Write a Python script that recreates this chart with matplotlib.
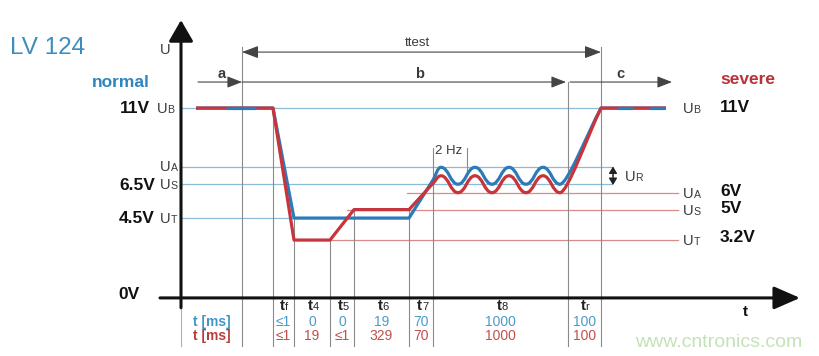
import matplotlib.pyplot as plt
from matplotlib.path import Path
from matplotlib.patches import PathPatch

# voltage levels (V)
level_names = ['B', 'A', 'S', 'T']
normal_levels = [11.0, 7.5, 6.5, 4.5]
severe_levels = [11.0, 6.0, 5.0, 3.2]
normal_texts = ['11V', '', '6.5V', '4.5V']
severe_texts = ['11V', '6V', '5V', '3.2V']

# schematic time positions (diagram units, not to scale)
t_start, t_test, t_end = 15, 61, 485
phase_edges = [92, 113, 149, 173, 228, 252, 387, 420]
phase_names = ['f', '4', '5', '6', '7', '8', 'r']
normal_ms = ['≤1', '0', '0', '19', '70', '1000', '100']
severe_ms = ['≤1', '19', '≤1', '329', '70', '1000', '100']

# 2 Hz ripple extremes
ripple_t = [260, 277, 294, 311, 328, 345, 362, 379]
normal_ripple = [7.5, 6.5, 7.5, 6.5, 7.5, 6.5, 7.5, 6.5]
severe_ripple = [7.0, 6.0, 7.0, 6.0, 7.0, 6.0, 7.0, 6.0]

normal_t = [15, 92, 113, 228, 252] + ripple_t + [420, 485]
normal_u = [11, 11, 4.5, 4.5, 6.75] + normal_ripple + [11, 11]
severe_t = [15, 92, 113, 149, 173, 228, 252] + ripple_t + [420, 485]
severe_u = [11, 11, 3.2, 3.2, 5.0, 5.0, 6.55] + severe_ripple + [11, 11]

BLUE = '#2b7bb9'
RED = '#c8343b'
LBLUE = '#8dbad7'
LRED = '#d88a8c'
GRAY = '#8a8a8a'
DARK = '#3a3a3a'

plt.rcParams['font.family'] = ['Liberation Sans', 'DejaVu Sans']
plt.rcParams['lines.scale_dashes'] = False

fig = plt.figure(figsize=(8.19, 3.56), dpi=100)
ax = fig.add_axes([0, 0, 1, 1])
ax.set_xlim(-181, 638)
ax.set_ylim(-3.6525, 17.388)
ax.axis('off')

X_AX = -0.22   # where the time axis is drawn
TAB_BOT = -3.05


def curve(ts, us, extremes):
    verts = [(ts[0], us[0])]
    codes = [Path.MOVETO]
    for i in range(len(ts) - 1):
        x0, y0, x1, y1 = ts[i], us[i], ts[i + 1], us[i + 1]
        e0, e1 = x0 in extremes, x1 in extremes
        if not (e0 or e1):
            verts.append((x1, y1))
            codes.append(Path.LINETO)
            continue
        d = 0.45 * min(x1 - x0, 17)
        c1 = (x0 + d, y0) if e0 else (x0 + 0.35 * (x1 - x0), y0 + 0.35 * (y1 - y0))
        c2 = (x1 - d, y1) if e1 else (x1 - 0.35 * (x1 - x0), y1 - 0.35 * (y1 - y0))
        verts += [c1, c2, (x1, y1)]
        codes += [Path.CURVE4] * 3
    return Path(verts, codes)


def u_label(x, y, idx, color=DARK, size=10.5):
    yb = y - 0.3
    ax.text(x, yb, 'U', fontsize=size, color=color, va='baseline', ha='left')
    ax.text(x + size * 0.722 * 100 / 72, yb, idx, fontsize=size * 0.72,
            color=color, va='baseline', ha='left')


def arrow(x0, y0, x1, y1, style='-|>', hl=0.9, hw=0.35, lw=0.8, color='#444', ms=10):
    ax.annotate('', xy=(x1, y1), xytext=(x0, y0),
                arrowprops=dict(arrowstyle=f'{style},head_length={hl},head_width={hw}',
                                lw=lw, color=color, mutation_scale=ms,
                                shrinkA=0, shrinkB=0), zorder=4)


# reference levels
ax.plot([0, 420], [normal_levels[0]] * 2, color=LBLUE, lw=0.9, zorder=1)
ax.plot([0, 431], [normal_levels[1]] * 2, color=LBLUE, lw=0.9, zorder=1)
ax.plot([0, 431], [normal_levels[2]] * 2, color=LBLUE, lw=0.9, zorder=1)
ax.plot([0, 228], [normal_levels[3]] * 2, color=LBLUE, lw=0.9, zorder=1)
ax.plot([226, 497], [severe_levels[1]] * 2, color=LRED, lw=0.9, zorder=1)
ax.plot([166, 497], [severe_levels[2]] * 2, color=LRED, lw=0.9, zorder=1)
ax.plot([149, 497], [severe_levels[3]] * 2, color=LRED, lw=0.9, zorder=1)

# vertical guide lines
tops = [11.0, 4.5, 3.2, 5.0, 5.0, 8.64, 12.54, 14.6]
for x, top in zip(phase_edges, tops):
    ax.plot([x, x], [TAB_BOT, top], color=GRAY, lw=0.8, zorder=1)
ax.plot([t_test, t_test], [TAB_BOT, 14.6], color=GRAY, lw=0.8, zorder=1)
ax.plot([0, 0], [TAB_BOT, -0.8], color='#b0b0b0', lw=0.8, zorder=1)
ax.plot([286, 286], [7.22, 8.64], color=GRAY, lw=0.8, zorder=1)
ax.text(254, 8.45, '2 Hz', fontsize=9.5, color=DARK, va='center', ha='left')

# voltage curves
ax.add_patch(PathPatch(curve(normal_t, normal_u, ripple_t), fill=False,
                       edgecolor=BLUE, lw=2.3, joinstyle='round', zorder=3))
ax.add_patch(PathPatch(curve(severe_t, severe_u, ripple_t), fill=False,
                       edgecolor=RED, lw=2.3, joinstyle='round', zorder=3))
ax.plot([normal_t[0], normal_t[1]], [normal_u[0], normal_u[1]], color=BLUE, lw=2.3,
        linestyle=(21.6, (21.6, 21.6)), solid_capstyle='butt', zorder=3.5)
ax.plot([normal_t[-2], normal_t[-1]], [normal_u[-2], normal_u[-1]], color=BLUE, lw=2.3,
        linestyle=(11.5, (11.5, 11.5)), solid_capstyle='butt', zorder=3.5)

# axes
arrow(0, -0.8, 0, 16.2, hl=1.3, hw=0.75, lw=2.2, color='#111', ms=10)
arrow(-21, X_AX, 619, X_AX, hl=1.6, hw=0.7, lw=2.2, color='#111', ms=10)
ax.text(-16, 14.43, 'U', fontsize=10.5, color=DARK, ha='center', va='center')
ax.text(564, -1.05, 't', fontsize=11, fontweight='bold', color='#111', ha='center', va='center')
ax.text(-41, 0.0, '0V', fontsize=12.5, fontweight='bold', color='#111', ha='right', va='center')

# top interval arrows
arrow(t_test, 14.31, 420, 14.31, style='<|-|>', hl=1.0, hw=0.38)
ax.text(236, 14.85, 'ttest', fontsize=9.5, color=DARK, ha='center', va='center')
arrow(17, 12.54, t_test, 12.54)
arrow(t_test, 12.54, 385, 12.54)
arrow(389, 12.54, 491, 12.54)
for x, s in zip([41, 239, 439], ['a', 'b', 'c']):
    ax.text(x, 13.0, s, fontsize=10.5, fontweight='bold', color=DARK, ha='center', va='center')

# left side labels
ax.text(-171, 14.55, 'LV 124', fontsize=17.5, color='#3c8cbe', ha='left', va='center')
ax.text(-31, 12.54, 'normal', fontsize=12.5, fontweight='bold', color='#2e86c1',
        ha='right', va='center')
for name, lev, txt in zip(level_names, normal_levels, normal_texts):
    u_label(-24 if name == 'B' else -21, lev + (0.1 if name == 'A' else 0), name)
    if txt:
        ax.text(-31 if name == 'B' else -26, lev - 0.05, txt, fontsize=12.5,
                fontweight='bold', color='#111', ha='right', va='center')

# right side labels
ax.text(539, 12.66, 'severe', fontsize=12.5, fontweight='bold', color='#b8333a',
        ha='left', va='center')
for name, lev, txt in zip(level_names, severe_levels, severe_texts):
    u_label(502, lev, name)
    ax.text(539, lev + (0.15 if name == 'T' else 0.05), txt, fontsize=12.5,
            fontweight='bold', color='#111', ha='left', va='center')
arrow(432, 7.0, 432, 7.55, hl=0.5, hw=0.3, lw=1.0, color='#222', ms=8)
arrow(432, 7.0, 432, 6.45, hl=0.5, hw=0.3, lw=1.0, color='#222', ms=8)
u_label(444, 7.0, 'R')

# timing table
ax.text(31, -1.66, 't [ms]', fontsize=10, fontweight='bold', color='#3f96c8',
        ha='center', va='center')
ax.text(31, -2.49, 't [ms]', fontsize=10, fontweight='bold', color='#b83c3c',
        ha='center', va='center')
for i, (nm, vn, vs) in enumerate(zip(phase_names, normal_ms, severe_ms)):
    c = (phase_edges[i] + phase_edges[i + 1]) / 2
    ax.text(c + 1, -0.95, 't', fontsize=11, fontweight='bold', color='#222',
            ha='right', va='baseline')
    ax.text(c + 1, -0.95, nm, fontsize=8, color='#222', ha='left', va='baseline')
    ax.text(c, -1.66, vn, fontsize=10, color='#4a9bcb', ha='center', va='center')
    ax.text(c, -2.49, vs, fontsize=10, color='#c0504d', ha='center', va='center')

ax.text(454, -2.84, 'www.cntronics.com', fontsize=14, color='#c4e2b8',
        ha='left', va='center')

fig.savefig('out.png', dpi=100)
